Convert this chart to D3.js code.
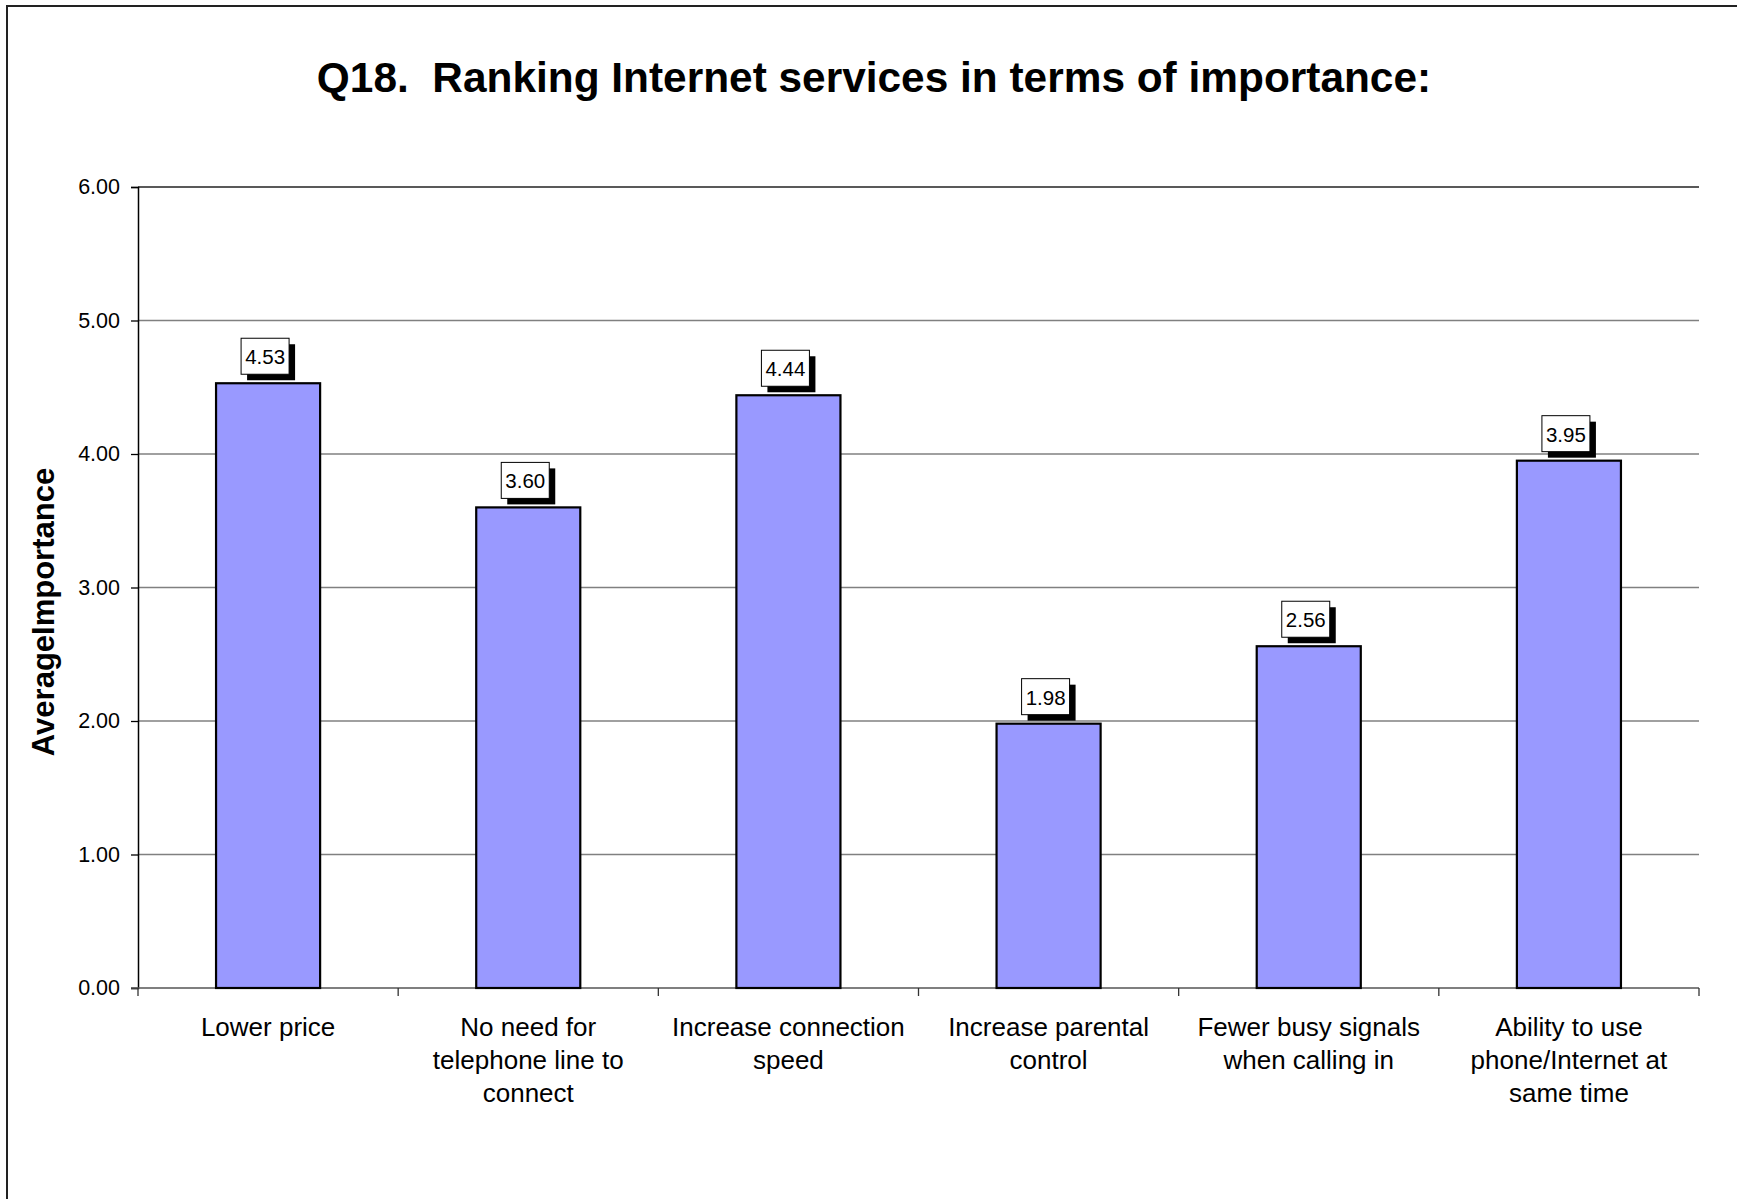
<!DOCTYPE html>
<html>
<head>
<meta charset="utf-8">
<script src="https://cdn.jsdelivr.net/npm/d3@7"></script>
<style>
  html, body { margin: 0; padding: 0; background: #fff; }
  svg { display: block; }
  text { font-family: "Liberation Sans", Arial, sans-serif; }
</style>
</head>
<body>
<svg id="chart" width="1737" height="1199"></svg>
<script>
const titleText = "Q18.  Ranking Internet services in terms of importance:";
const yAxisTitle = "AverageImportance";
const categories = [
  "Lower price",
  "No need for\ntelephone line to\nconnect",
  "Increase connection\nspeed",
  "Increase parental\ncontrol",
  "Fewer busy signals\nwhen calling in",
  "Ability to use\nphone/Internet at\nsame time"
];
const values = [4.53, 3.60, 4.44, 1.98, 2.56, 3.95];
const yTicks = [0, 1, 2, 3, 4, 5, 6];

const svg = d3.select("#chart");

// outer chart border (clipped at right/bottom as in reference)
svg.append("rect")
  .attr("x", 7).attr("y", 6)
  .attr("width", 1760).attr("height", 1220)
  .attr("fill", "none").attr("stroke", "#222").attr("stroke-width", 2);

const pLeft = 138, pRight = 1699, pTop = 187, pBottom = 988;

const x = d3.scaleBand().domain(d3.range(categories.length))
  .range([pLeft, pRight]).paddingInner(0.6).paddingOuter(0.3);
const xEdges = d3.scaleLinear().domain([0, categories.length]).range([pLeft, pRight]);
const y = d3.scaleLinear().domain([0, 6]).range([pBottom, pTop]);

// gridlines
svg.append("g").selectAll("line").data(yTicks.filter(d => d > 0)).join("line")
  .attr("x1", pLeft).attr("x2", pRight)
  .attr("y1", d => y(d)).attr("y2", d => y(d))
  .attr("stroke", d => d === 6 ? "#222" : "#808080").attr("stroke-width", 1.3);

// y axis
const yAxis = d3.axisLeft(y).tickValues(yTicks).tickFormat(d3.format(".2f")).tickSize(7).tickPadding(11);
const gy = svg.append("g").attr("transform", `translate(${pLeft},0)`).call(yAxis);
gy.select(".domain").attr("stroke", "#000").attr("stroke-width", 1.5);
gy.selectAll(".tick line").attr("stroke", "#000").attr("stroke-width", 1.3);
gy.selectAll(".tick text").attr("font-size", 21.5).attr("fill", "#000")
  .style("font-family", "'Liberation Sans', Arial, sans-serif");

// x axis line + ticks at category boundaries
svg.append("line").attr("x1", pLeft - 7).attr("x2", pRight)
  .attr("y1", pBottom).attr("y2", pBottom).attr("stroke", "#555").attr("stroke-width", 1.5);
svg.append("g").selectAll("line").data(d3.range(categories.length + 1)).join("line")
  .attr("x1", d => xEdges(d)).attr("x2", d => xEdges(d))
  .attr("y1", pBottom).attr("y2", pBottom + 8)
  .attr("stroke", "#333").attr("stroke-width", 1.3);

// category labels
const catG = svg.append("g").selectAll("text").data(categories).join("text")
  .attr("text-anchor", "middle").attr("font-size", 26).attr("fill", "#000")
  .attr("transform", (d, i) => `translate(${x(i) + x.bandwidth() / 2},1036)`);
catG.selectAll("tspan").data(d => d.split("\n")).join("tspan")
  .attr("x", 0).attr("y", (d, i) => i * 33).text(d => d);

// bars
svg.append("g").selectAll("rect").data(values).join("rect")
  .attr("x", (d, i) => x(i)).attr("width", x.bandwidth())
  .attr("y", d => y(d)).attr("height", d => y(0) - y(d))
  .attr("fill", "#9999FF").attr("stroke", "#000").attr("stroke-width", 2.2);

// data labels with shadow
const bw = 48, bh = 36, sh = 6;
const lab = svg.append("g").selectAll("g").data(values).join("g")
  .attr("transform", (d, i) => `translate(${x(i) + x.bandwidth() / 2 - (bw + sh) / 2},${y(d) - 9 - bh})`);
lab.append("rect").attr("x", sh).attr("y", sh).attr("width", bw).attr("height", bh).attr("fill", "#000");
lab.append("rect").attr("x", 0).attr("y", 0).attr("width", bw).attr("height", bh)
  .attr("fill", "#fff").attr("stroke", "#000").attr("stroke-width", 1);
lab.append("text").attr("x", bw / 2).attr("y", 26).attr("text-anchor", "middle")
  .attr("font-size", 20.5).attr("fill", "#000").text(d => d3.format(".2f")(d));

// title
svg.append("text").attr("x", 874).attr("y", 92).attr("text-anchor", "middle")
  .attr("font-size", 42.4).attr("font-weight", "bold").attr("fill", "#000")
  .style("white-space", "pre").text(titleText);

// y axis title
svg.append("text").attr("transform", "translate(54,612) rotate(-90)")
  .attr("text-anchor", "middle").attr("font-size", 31).attr("font-weight", "bold")
  .attr("fill", "#000").text(yAxisTitle);
</script>
</body>
</html>
